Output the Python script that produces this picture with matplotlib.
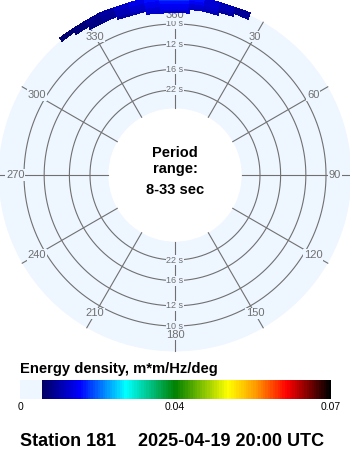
import numpy as np
import matplotlib
matplotlib.use('Agg')
import matplotlib.pyplot as plt
from matplotlib.colors import LinearSegmentedColormap, FuncNorm

plt.rcParams['font.family'] = ['Liberation Sans', 'DejaVu Sans']

# data
station = "Station 181"
timestamp = "2025-04-19 20:00 UTC"
period_min = 8
period_max = 33
ring_periods = [10, 12, 16, 22]
dir_angles = [0, 30, 60, 90, 120, 150, 180, 210, 240, 270, 300, 330]
dir_labels = ['360', '30', '60', '90', '120', '150', '180', '210', '240', '270', '300', '330']

# spectrum cells (frequency rows x direction columns, deg), nan = no energy
freq_edges = [0.110, 0.1125, 0.115, 0.1175, 0.120, 0.1225]
dir_edges = [-40, -35, -30, -25, -20, -15, -10, -5, 0, 5, 10, 15, 20, 25]
nan = np.nan
energy = [
    [nan, nan, nan, nan, nan, nan, 0.012, 0.013, 0.012, nan, nan, nan, nan],
    [nan, nan, nan, nan, 0.010, 0.011, 0.013, 0.014, 0.014, 0.012, 0.011, nan, nan],
    [nan, nan, 0.008, 0.009, 0.011, 0.012, 0.014, 0.015, 0.015, 0.013, 0.012, 0.010, nan],
    [nan, 0.007, 0.008, 0.009, 0.011, 0.013, 0.015, 0.016, 0.016, 0.015, 0.013, 0.011, 0.009],
    [0.0065, 0.0075, 0.0085, 0.010, 0.012, 0.014, 0.016, 0.018, 0.018, 0.016, 0.013, 0.011, 0.009],
]

cbar_ticks = [0, 0.04, 0.07]
cbar_tick_labels = ['0', '0.04', '0.07']

# colour scale (non linear: 0.04 sits in the middle of the bar)
bg = '#eef6ff'
grid_col = '#707070'
cmap = LinearSegmentedColormap.from_list('cdip', [
    (0.0, bg), (0.0675, bg), (0.068, '#000060'), (0.19, '#0000ff'),
    (0.34, '#00ffff'), (0.50, '#008000'), (0.67, '#ffff00'),
    (0.76, '#ff9900'), (0.86, '#ff0000'), (1.0, '#000000')], N=128)
norm = FuncNorm((lambda x: np.interp(x, [0, 0.04, 0.07], [0, 0.498, 1]),
                 lambda y: np.interp(y, [0, 0.498, 1], [0, 0.04, 0.07])),
                vmin=0, vmax=0.07)

fig = plt.figure(figsize=(3.5, 4.5), dpi=100)

# polar plot, radius linear in frequency
f_in = 1.0 / period_max
f_out = 0.121
rorigin = -0.0248
rmax = 0.125
R = (rmax - rorigin) * 1210
ax = fig.add_axes([(175 - R) / 350, (275 - R) / 450, 2 * R / 350, 2 * R / 450],
                  projection='polar')
ax.set_theta_zero_location('N')
ax.set_theta_direction(-1)
ax.set_ylim(0, rmax)
ax.set_rorigin(rorigin)
ax.set_axis_off()

ax.bar(0, f_out - f_in, width=2 * np.pi, bottom=f_in, color=bg, edgecolor='none', zorder=1)

th = np.linspace(0, 2 * np.pi, 361)
for p in ring_periods:
    ax.plot(th, np.full_like(th, 1.0 / p), color=grid_col, lw=0.8, zorder=2)
    for a in [0, np.pi]:
        ax.text(a, 1.0 / p, f'{p} s', ha='center', va='center', fontsize=6.5,
                color=grid_col, zorder=3,
                bbox=dict(fc=bg, ec='none', pad=0.4))

for a, lab in zip(dir_angles, dir_labels):
    t = np.deg2rad(a)
    ax.plot([t, t], [f_in, f_out], color=grid_col, lw=0.8, zorder=2)
    ax.text(t, 0.1072, lab, ha='center', va='center', fontsize=8,
            color=grid_col, zorder=3, bbox=dict(fc=bg, ec='none', pad=0.5))

T, F = np.meshgrid(np.deg2rad(dir_edges), freq_edges)
ax.pcolormesh(T, F, np.ma.masked_invalid(np.array(energy)), cmap=cmap, norm=norm,
              shading='flat', edgecolors='face', linewidth=0.3, antialiased=False,
              zorder=4)

fig.text(0.5, 0.66, 'Period', ha='center', va='center', fontsize=10.5, fontweight='bold')
fig.text(0.5, 0.625, 'range:', ha='center', va='center', fontsize=10.5, fontweight='bold')
fig.text(0.5, 0.578, f'{period_min}-{period_max} sec', ha='center', va='center',
         fontsize=10.5, fontweight='bold')

# colour bar
cax = fig.add_axes([20 / 350, (450 - 399) / 450, 311 / 350, 19 / 450])
sm = plt.cm.ScalarMappable(norm=norm, cmap=cmap)
cb = fig.colorbar(sm, cax=cax, orientation='horizontal')
cb.outline.set_visible(False)
cb.set_ticks(cbar_ticks, labels=cbar_tick_labels)
cax.tick_params(length=0, pad=2, labelsize=7.5)
cax.xaxis.set_minor_locator(matplotlib.ticker.NullLocator())

fig.text(20 / 350, 1 - 373 / 450, 'Energy density, m*m/Hz/deg', ha='left',
         va='baseline', fontsize=10.6, fontweight='bold')

fig.text(20 / 350, 1 - 446 / 450, station, ha='left', va='baseline',
         fontsize=13, fontweight='bold')
fig.text(138 / 350, 1 - 446 / 450, timestamp, ha='left', va='baseline',
         fontsize=13, fontweight='bold')

fig.savefig('out.png', dpi=100)
